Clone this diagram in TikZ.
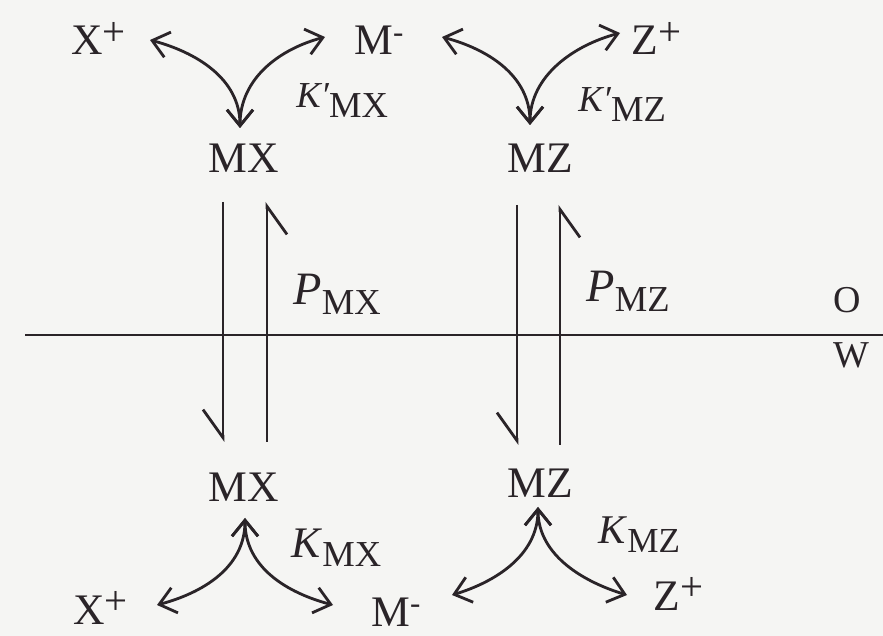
\documentclass[tikz,border=0pt]{standalone}
\usepackage{fontspec}
\setmainfont{Liberation Serif}
\usetikzlibrary{arrows.meta}
\definecolor{ink}{HTML}{2A2428}
\definecolor{paper}{HTML}{F5F5F3}
\newcommand{\cation}[1]{#1\raisebox{7pt}{\fontsize{29}{29}\selectfont +}}
\newcommand{\anion}[1]{#1\raisebox{9pt}{\fontsize{22}{22}\selectfont -}}
\newcommand{\coef}[4]{{\fontsize{#1}{#1}\selectfont\textit{#2}}\raisebox{-7pt}{\fontsize{#3}{#3}\selectfont #4}}

\begin{document}
\begin{tikzpicture}[x=0.025cm, y=-0.025cm,
    color=ink, line width=2pt,
    >={Straight Barb[length=0.4cm, width=0.65cm]},
    every node/.style={inner sep=0pt},
    species/.style={anchor=base, font=\fontsize{31}{31}\selectfont},
    ion/.style={anchor=base west, font=\fontsize{31}{31}\selectfont},
    rate/.style={anchor=base west},
    phase/.style={anchor=base, font=\fontsize{27}{27}\selectfont},
    bind/.style={<->},
    hop/.style={-{Straight Barb[right, length=0.7cm, width=1cm]}}
  ]
    \useasboundingbox (0,0) rectangle (883,636);
    \fill[paper] (0,0) rectangle (883,636);

    % organic phase
    \node[ion] (xpt) at (70,55) {\cation{X}};
    \node[ion] (mmt) at (353,55) {\anion{M}};
    \node[ion] (zpt) at (630,55) {\cation{Z}};
    \node[species] (mxt) at (244,173) {MX};
    \node[species] (mzt) at (540,173) {MZ};
    \node[rate] (kmxt) at (295,108) {\coef{26}{K′}{26}{MX}};
    \node[rate] (kmzt) at (577,112) {\coef{26}{K′}{26}{MZ}};

    % aqueous phase
    \node[species] (mxb) at (244,502) {MX};
    \node[species] (mzb) at (540,498) {MZ};
    \node[ion] (xpb) at (72,624) {\cation{X}};
    \node[ion] (mmb) at (370,626) {\anion{M}};
    \node[ion] (zpb) at (652,610) {\cation{Z}};
    \node[rate] (kmxb) at (290,557) {\coef{31}{K}{26}{MX}};
    \node[rate] (kmzb) at (597,543) {\coef{29}{K}{25}{MZ}};

    % interface
    \draw (25,335) -- (883,335);
    \node[phase] (oil) at (847,313) {O};
    \node[phase] (water) at (851,368) {W};
    \node[rate] (pmx) at (292,305) {\coef{33}{P}{26}{MX}};
    \node[rate] (pmz) at (585,302) {\coef{33}{P}{26}{MZ}};

    \draw[bind] ([shift={(80,-15)}]xpt.base west) .. controls +(45,12) and +(0,-50) .. ([shift={(-4,-45)}]mxt.base);
    \draw[bind] ([shift={(-28,-18)}]mmt.base west) .. controls +(-45,12) and +(0,-50) .. ([shift={(-4,-45)}]mxt.base);
    \draw[bind] ([shift={(89,-18)}]mmt.base west) .. controls +(45,12) and +(0,-50) .. ([shift={(-10,-48)}]mzt.base);
    \draw[bind] ([shift={(-10,-22)}]zpt.base west) .. controls +(-45,12) and +(0,-50) .. ([shift={(-10,-48)}]mzt.base);

    \draw[bind] ([shift={(85,-19)}]xpb.base west) .. controls +(45,-12) and +(0,50) .. ([shift={(1,16)}]mxb.base);
    \draw[bind] ([shift={(-37,-21)}]mmb.base west) .. controls +(-45,-12) and +(0,50) .. ([shift={(1,16)}]mxb.base);
    \draw[bind] ([shift={(82,-31)}]mmb.base west) .. controls +(40,-12) and +(0,50) .. ([shift={(-2,9)}]mzb.base);
    \draw[bind] ([shift={(-25,-15)}]zpb.base west) .. controls +(-40,-12) and +(0,50) .. ([shift={(-2,9)}]mzb.base);

    \draw[hop] ([shift={(-21,29)}]mxt.base) -- ([shift={(-21,-60)}]mxb.base);
    \draw[hop] ([shift={(23,-60)}]mxb.base) -- ([shift={(23,29)}]mxt.base);
    \draw[hop] ([shift={(-23,32)}]mzt.base) -- ([shift={(-23,-53)}]mzb.base);
    \draw[hop] ([shift={(20,-53)}]mzb.base) -- ([shift={(20,32)}]mzt.base);
  \end{tikzpicture}
\end{document}
